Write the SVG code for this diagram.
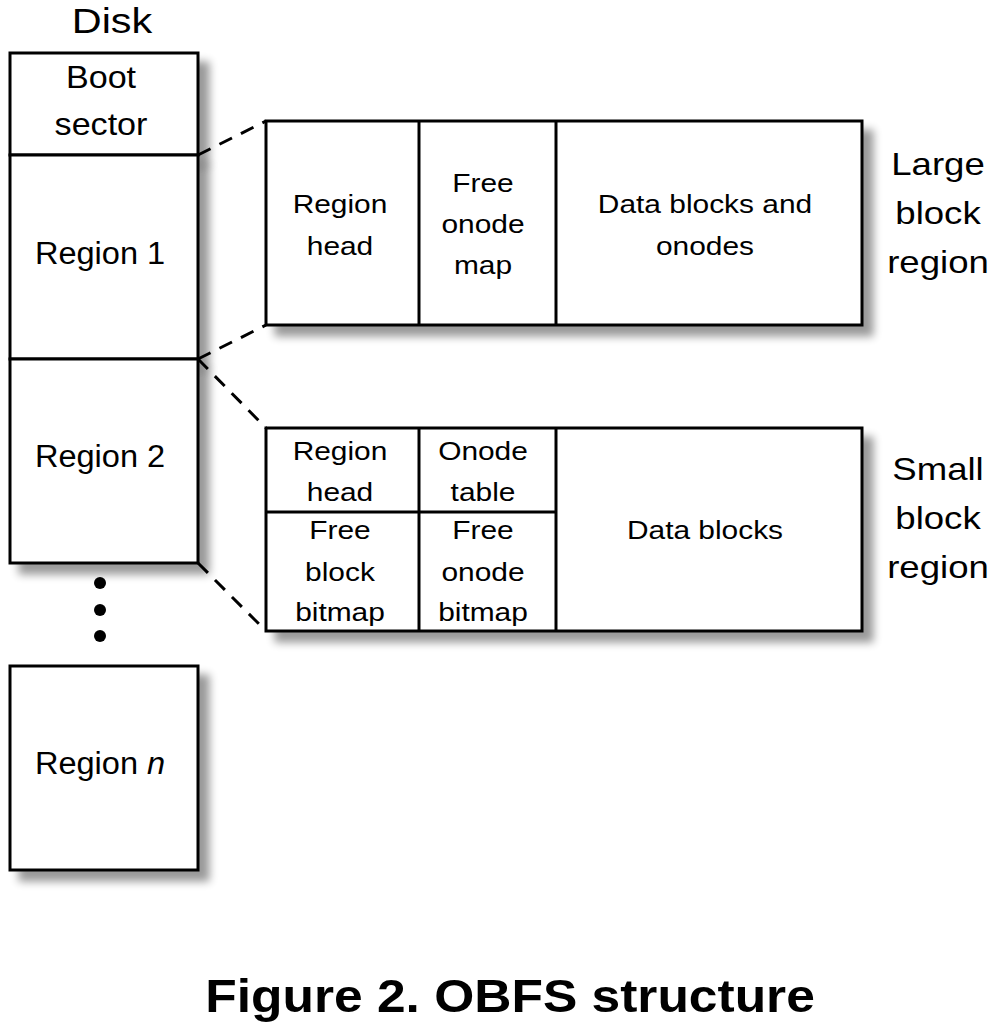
<svg xmlns="http://www.w3.org/2000/svg" width="998" height="1030" viewBox="0 0 998 1030">
<style>
.box{fill:#fff;stroke:#000;stroke-width:3}
.ln{stroke:#000;stroke-width:3;fill:none}
.dash{stroke:#000;stroke-width:3;fill:none;stroke-dasharray:14 10}
text{font-family:"Liberation Sans",Arial,Helvetica,sans-serif;fill:#000;text-anchor:middle}
.lg{font-size:36px}
.md{font-size:31px}
.sm{font-size:26px}
.rl{font-size:31px}
.tt{font-size:46px;font-weight:bold}
</style>
<defs>
<filter id="sh" x="-10%" y="-10%" width="130%" height="140%">
<feGaussianBlur in="SourceAlpha" stdDeviation="4"/>
<feOffset dx="10" dy="10"/>
<feComponentTransfer><feFuncA type="linear" slope="0.4"/></feComponentTransfer>
<feMerge><feMergeNode/><feMergeNode in="SourceGraphic"/></feMerge>
</filter>
</defs>
<rect width="998" height="1030" fill="#fff"/>

<text class="lg" transform="translate(112 33) scale(1.15 1)">Disk</text>

<g id="boot-sector">
<rect class="box" x="10" y="53" width="188" height="102" filter="url(#sh)"/>
<text class="md" transform="translate(101 88) scale(1.1 1)">Boot</text>
<text class="md" transform="translate(101 135) scale(1.1 1)">sector</text>
</g>
<g id="region-1">
<rect class="box" x="10" y="155" width="188" height="204" filter="url(#sh)"/>
<text class="md" transform="translate(100 264) scale(1.05 1)">Region 1</text>
</g>
<g id="region-2">
<rect class="box" x="10" y="359" width="188" height="204" filter="url(#sh)"/>
<text class="md" transform="translate(100 467) scale(1.05 1)">Region 2</text>
</g>
<g id="dots">
<circle cx="100" cy="583" r="6"/>
<circle cx="100" cy="610" r="6"/>
<circle cx="100" cy="636" r="6"/>
</g>
<g id="region-n">
<rect class="box" x="10" y="666" width="188" height="204" filter="url(#sh)"/>
<text class="md" transform="translate(100 774) scale(1.05 1)">Region <tspan font-style="italic">n</tspan></text>
</g>

<g id="connectors">
<line class="dash" x1="198" y1="155" x2="266" y2="121"/>
<line class="dash" x1="198" y1="359" x2="266" y2="325"/>
<line class="dash" x1="198" y1="359" x2="266" y2="428"/>
<line class="dash" x1="198" y1="563" x2="266" y2="631"/>
</g>

<g id="large-block-region">
<rect class="box" x="266" y="121" width="596" height="204" filter="url(#sh)"/>
<line class="ln" x1="419" y1="121" x2="419" y2="325"/>
<line class="ln" x1="556" y1="121" x2="556" y2="325"/>
<text class="sm" transform="translate(340 213) scale(1.15 1)">Region</text>
<text class="sm" transform="translate(340 255) scale(1.15 1)">head</text>
<text class="sm" transform="translate(483 192) scale(1.15 1)">Free</text>
<text class="sm" transform="translate(483 233) scale(1.15 1)">onode</text>
<text class="sm" transform="translate(483 274) scale(1.15 1)">map</text>
<text class="sm" transform="translate(705 213) scale(1.15 1)">Data blocks and</text>
<text class="sm" transform="translate(705 255) scale(1.15 1)">onodes</text>
<text class="rl" transform="translate(938 175) scale(1.18 1)">Large</text>
<text class="rl" transform="translate(938 224) scale(1.18 1)">block</text>
<text class="rl" transform="translate(938 273) scale(1.18 1)">region</text>
</g>

<g id="small-block-region">
<rect class="box" x="266" y="428" width="596" height="203" filter="url(#sh)"/>
<line class="ln" x1="419" y1="428" x2="419" y2="631"/>
<line class="ln" x1="556" y1="428" x2="556" y2="631"/>
<line class="ln" x1="266" y1="512" x2="556" y2="512"/>
<text class="sm" transform="translate(340 460) scale(1.15 1)">Region</text>
<text class="sm" transform="translate(340 501) scale(1.15 1)">head</text>
<text class="sm" transform="translate(483 460) scale(1.15 1)">Onode</text>
<text class="sm" transform="translate(483 501) scale(1.15 1)">table</text>
<text class="sm" transform="translate(340 539) scale(1.15 1)">Free</text>
<text class="sm" transform="translate(340 581) scale(1.15 1)">block</text>
<text class="sm" transform="translate(340 621) scale(1.15 1)">bitmap</text>
<text class="sm" transform="translate(483 539) scale(1.15 1)">Free</text>
<text class="sm" transform="translate(483 581) scale(1.15 1)">onode</text>
<text class="sm" transform="translate(483 621) scale(1.15 1)">bitmap</text>
<text class="sm" transform="translate(705 539) scale(1.15 1)">Data blocks</text>
<text class="rl" transform="translate(938 480) scale(1.18 1)">Small</text>
<text class="rl" transform="translate(938 529) scale(1.18 1)">block</text>
<text class="rl" transform="translate(938 578) scale(1.18 1)">region</text>
</g>

<text class="tt" transform="translate(510 1012) scale(1.12 1)">Figure 2. OBFS structure</text>
</svg>
